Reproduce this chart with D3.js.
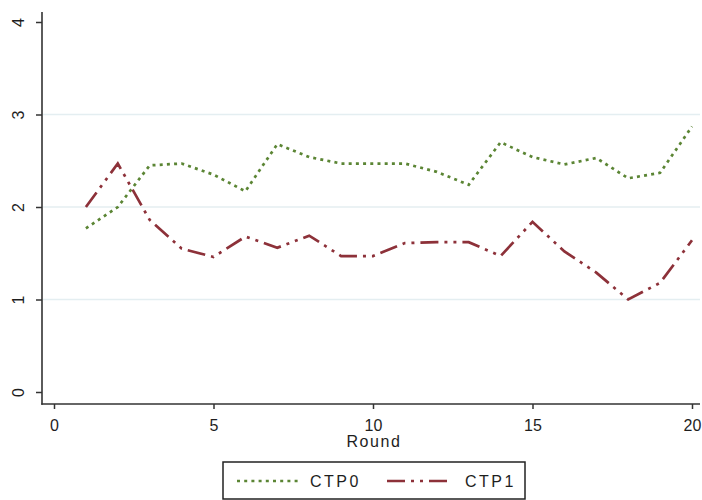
<!DOCTYPE html>
<html>
<head>
<meta charset="utf-8">
<script src="https://cdn.jsdelivr.net/npm/d3@7"></script>
<style>
  body { margin: 0; background: #fff; }
  text { font-family: "Liberation Sans", Arial, sans-serif; fill: #1e1e1e; }
</style>
</head>
<body>
<script>
// data
const rounds = [1, 2, 3, 4, 5, 6, 7, 8, 9, 10, 11, 12, 13, 14, 15, 16, 17, 18, 19, 20];
const ctp0 = [1.77, 2.0, 2.45, 2.47, 2.35, 2.17, 2.68, 2.54, 2.47, 2.47,
              2.47, 2.38, 2.24, 2.70, 2.54, 2.46, 2.53, 2.31, 2.37, 2.87];
const ctp1 = [2.0, 2.47, 1.86, 1.55, 1.46, 1.68, 1.56, 1.69, 1.47, 1.47,
              1.61, 1.62, 1.62, 1.47, 1.84, 1.52, 1.29, 1.0, 1.18, 1.64];
const xTicks = [0, 5, 10, 15, 20];
const yTicks = [0, 1, 2, 3, 4];
const gridTicks = [1, 2, 3];
const seriesNames = ["CTP0", "CTP1"];
const xTitle = "Round";

const width = 702, height = 500;
const axisX = 42, axisY = 404; // where the axis lines sit

const series = [
  {name: seriesNames[0], values: ctp0, color: "#5b8534", dash: "3,4.2"},
  {name: seriesNames[1], values: ctp1, color: "#8d3139", dash: "18,6,3,6,3,6"}
];

const svg = d3.select("body").append("svg")
    .attr("width", width)
    .attr("height", height);

const x = d3.scaleLinear().domain([0, 20]).range([54, 692]);
const y = d3.scaleLinear().domain([0, 4]).range([392, 22]);

// grid lines
svg.append("g")
  .selectAll("line")
  .data(gridTicks)
  .join("line")
    .attr("x1", axisX + 1)
    .attr("x2", width - 2)
    .attr("y1", d => y(d))
    .attr("y2", d => y(d))
    .attr("stroke", "#e4eef1")
    .attr("stroke-width", 1.5);

// y axis
const yAxis = svg.append("g")
    .attr("transform", `translate(${axisX},0)`)
    .call(d3.axisLeft(y).tickValues(yTicks).tickFormat(d3.format("d")).tickSize(6).tickSizeOuter(0));
yAxis.select(".domain").remove();
yAxis.selectAll(".tick line").attr("stroke", "#333").attr("stroke-width", 1.5);
yAxis.selectAll(".tick text")
    .attr("transform", "rotate(-90)")
    .attr("x", 0)
    .attr("y", -18)
    .attr("dy", 0)
    .attr("text-anchor", "middle")
    .style("font-size", "16px");
svg.append("line")
    .attr("x1", axisX).attr("x2", axisX)
    .attr("y1", y(4) - 10).attr("y2", axisY + 0.75)
    .attr("stroke", "#333").attr("stroke-width", 1.6);

// x axis
const xAxis = svg.append("g")
    .attr("transform", `translate(0,${axisY})`)
    .call(d3.axisBottom(x).tickValues(xTicks).tickSize(5).tickPadding(11).tickSizeOuter(0));
xAxis.select(".domain").remove();
xAxis.selectAll(".tick line").attr("stroke", "#333").attr("stroke-width", 1.5);
xAxis.selectAll(".tick text").style("font-size", "16px");
svg.append("line")
    .attr("x1", axisX - 0.75).attr("x2", width - 2)
    .attr("y1", axisY).attr("y2", axisY)
    .attr("stroke", "#333").attr("stroke-width", 1.6);

svg.append("text")
    .attr("x", x(10) + 1)
    .attr("y", axisY + 43)
    .attr("text-anchor", "middle")
    .style("font-size", "16px")
    .style("letter-spacing", "1.6px")
    .text(xTitle);

// lines
const line = d3.line()
    .x((d, i) => x(rounds[i]))
    .y(d => y(d));

svg.append("g")
  .selectAll("path")
  .data(series)
  .join("path")
    .attr("fill", "none")
    .attr("stroke", d => d.color)
    .attr("stroke-width", 2.7)
    .attr("stroke-dasharray", d => d.dash)
    .attr("d", d => line(d.values));

// legend
const legend = svg.append("g").attr("transform", "translate(223,462)");
legend.append("rect")
    .attr("width", 302)
    .attr("height", 37)
    .attr("fill", "#fff")
    .attr("stroke", "#222")
    .attr("stroke-width", 1.5);

const item = legend.selectAll("g.item")
  .data(series)
  .join("g")
    .attr("class", "item")
    .attr("transform", (d, i) => `translate(${14 + i * 150},19)`);
item.append("line")
    .attr("x1", 0)
    .attr("x2", (d, i) => i ? 66 : 62)
    .attr("stroke", d => d.color)
    .attr("stroke-width", 2.7)
    .attr("stroke-dasharray", d => d.dash);
item.append("text")
    .attr("x", (d, i) => i ? 78 : 73)
    .attr("y", 6)
    .style("font-size", "16px")
    .style("letter-spacing", "2.5px")
    .text(d => d.name);
</script>
</body>
</html>
